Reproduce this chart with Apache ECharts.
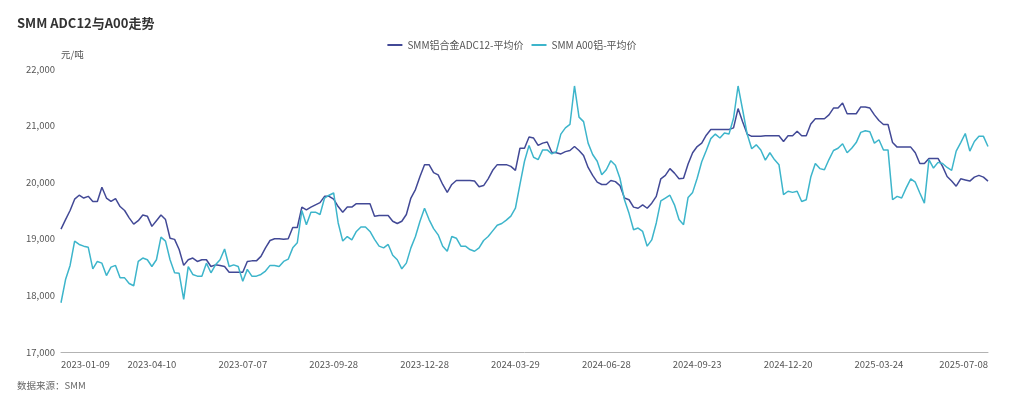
<!DOCTYPE html>
<html>
<head>
<meta charset="utf-8">
<title>SMM ADC12与A00走势</title>
<script src="https://cdn.jsdelivr.net/npm/echarts@6/dist/echarts.min.js"></script>
<style>
  html, body { margin: 0; padding: 0; background: #fff; }
  #chart { width: 1024px; height: 399px; }
</style>
</head>
<body>
<div id="chart"></div>
<script>
// x 轴标签日期：前 10 个每 20 个点一个，最后一个为末日
var tickDates = ['2023-01-09', '2023-04-10', '2023-07-07', '2023-09-28', '2023-12-28',
  '2024-03-29', '2024-06-28', '2024-09-23', '2024-12-20', '2025-03-24', '2025-07-08'];

// SMM铝合金ADC12-平均价（元/吨），约每 3 个交易日一个点
var adc12 = [
  19170, 19340, 19500, 19700, 19770, 19720, 19750, 19660, 19660, 19910, 19720, 19660, 19710, 19570, 19500, 19370, 19260, 19320, 19420, 19400,
  19220, 19320, 19420, 19340, 19010, 18990, 18810, 18530, 18630, 18660, 18600, 18630, 18630, 18510, 18540, 18530, 18510, 18410, 18410, 18410,
  18410, 18600, 18610, 18610, 18690, 18840, 18970, 19000, 19000, 18990, 19000, 19200, 19200, 19560, 19510, 19560, 19600, 19640, 19750, 19750,
  19700, 19570, 19470, 19560, 19560, 19620, 19620, 19620, 19620, 19400, 19410, 19410, 19410, 19310, 19270, 19310, 19430, 19720, 19870, 20100,
  20310, 20310, 20170, 20130, 19960, 19820, 19960, 20030, 20030, 20030, 20030, 20020, 19920, 19940, 20060, 20210, 20310, 20310, 20310, 20280,
  20210, 20600, 20600, 20800, 20780, 20650, 20690, 20710, 20530, 20520, 20500, 20540, 20560, 20630, 20560, 20470, 20260, 20120, 20000, 19960,
  19960, 20030, 20010, 19940, 19720, 19690, 19560, 19540, 19600, 19540, 19630, 19750, 20060, 20120, 20240, 20160, 20060, 20070, 20320, 20520,
  20630, 20690, 20830, 20930, 20930, 20930, 20930, 20930, 20960, 21300, 21070, 20850, 20810, 20810, 20810, 20820, 20820, 20820, 20820, 20720,
  20820, 20820, 20900, 20820, 20820, 21030, 21120, 21120, 21120, 21190, 21310, 21310, 21400, 21210, 21210, 21210, 21330, 21330, 21310, 21190,
  21090, 21020, 21020, 20700, 20620, 20620, 20620, 20620, 20520, 20330, 20330, 20420, 20420, 20420, 20280, 20100, 20020, 19930, 20060, 20040,
  20020, 20090, 20120, 20090, 20020
];

// SMM A00铝-平均价（元/吨）
var a00 = [
  17870, 18280, 18530, 18960, 18900, 18870, 18850, 18470, 18600, 18570, 18350, 18500, 18530, 18310, 18310, 18210, 18170, 18600, 18660, 18630,
  18510, 18630, 19030, 18960, 18630, 18400, 18390, 17930, 18510, 18370, 18340, 18340, 18570, 18400, 18540, 18630, 18820, 18510, 18540, 18510,
  18250, 18460, 18340, 18340, 18370, 18430, 18530, 18530, 18510, 18600, 18640, 18840, 18930, 19500, 19250, 19470, 19470, 19430, 19720, 19770,
  19810, 19280, 18960, 19040, 18980, 19130, 19210, 19210, 19130, 18990, 18870, 18840, 18900, 18710, 18630, 18470, 18570, 18840, 19040, 19310,
  19540, 19340, 19180, 19070, 18870, 18780, 19040, 19010, 18870, 18870, 18810, 18780, 18840, 18970, 19040, 19140, 19240, 19270, 19330, 19400,
  19540, 19960, 20370, 20650, 20440, 20400, 20570, 20570, 20500, 20540, 20850, 20960, 21020, 21700, 21150, 21070, 20690, 20490, 20370, 20130,
  20220, 20380, 20300, 20070, 19690, 19450, 19160, 19190, 19130, 18870, 18980, 19280, 19670, 19720, 19770, 19600, 19340, 19250, 19730, 19820,
  20070, 20360, 20560, 20770, 20850, 20780, 20870, 20850, 21130, 21700, 21280, 20850, 20590, 20660, 20570, 20390, 20520, 20400, 20310, 19780,
  19840, 19820, 19840, 19660, 19690, 20090, 20330, 20240, 20220, 20400, 20560, 20600, 20680, 20520, 20600, 20700, 20880, 20910, 20890, 20690,
  20750, 20570, 20570, 19690, 19750, 19720, 19900, 20060, 20000, 19810, 19630, 20400, 20250, 20350, 20330, 20260, 20210, 20550, 20700, 20860,
  20550, 20720, 20810, 20810, 20630
];

var seriesNames = ['SMM铝合金ADC12-平均价', 'SMM A00铝-平均价'];
var colors = ['#424996', '#3db5cb'];

// 类目日期：标签日期之间按日历天数铺开（仅用于提示）
function buildDates() {
  var out = [];
  var day = function (s) { return Date.parse(s + 'T00:00:00Z') / 864e5; };
  var fmt = function (d) { return new Date(d * 864e5).toISOString().slice(0, 10); };
  for (var i = 0; i < tickDates.length - 1; i++) {
    var a = day(tickDates[i]), b = day(tickDates[i + 1]);
    var n = i < tickDates.length - 2 ? 20 : adc12.length - 1 - 20 * (tickDates.length - 2);
    for (var j = 0; j < n; j++) out.push(fmt(a + Math.round(j * (b - a) / n)));
  }
  out.push(tickDates[tickDates.length - 1]);
  return out;
}
var dates = buildDates();

var chart = echarts.init(document.getElementById('chart'));
var option = {
  color: colors,
  textStyle: { fontFamily: '"Noto Sans CJK SC", "Noto Sans", sans-serif' },
  title: [{
    text: 'SMM ADC12与A00走势',
    left: 12,
    top: 12,
    textStyle: { fontSize: 13, fontWeight: 'bold', color: '#333' }
  }, {
    text: '数据来源：SMM',
    left: 12,
    top: 376,
    textStyle: { fontSize: 9.5, fontWeight: 'normal', color: '#666' }
  }],
  legend: {
    top: 35,
    left: 'center',
    icon: 'rect',
    itemWidth: 15,
    itemHeight: 2,
    itemGap: 8,
    textStyle: { fontSize: 10, color: '#555' },
    data: seriesNames
  },
  grid: { left: 61, right: 36, top: 69, bottom: 47 },
  xAxis: {
    type: 'category',
    boundaryGap: false,
    data: dates,
    axisLine: { lineStyle: { color: '#b3b3b3' } },
    axisTick: { show: false },
    axisLabel: {
      color: '#555',
      fontSize: 9.5,
      margin: 8,
      alignMinLabel: 'left',
      alignMaxLabel: 'right',
      interval: function (index) {
        return (index % 20 === 0 && index <= 180) || index === dates.length - 1;
      }
    }
  },
  yAxis: {
    type: 'value',
    name: '元/吨',
    min: 17000,
    max: 22000,
    interval: 1000,
    nameGap: 10,
    nameTextStyle: { color: '#555', fontSize: 9.5, align: 'left' },
    axisLine: { show: false },
    axisTick: { show: false },
    splitLine: { show: false },
    axisLabel: {
      color: '#555',
      fontSize: 9.5,
      margin: 6,
      formatter: function (v) { return v.toLocaleString('en-US'); }
    }
  },
  series: [{
    name: seriesNames[0],
    type: 'line',
    symbol: 'none',
    lineStyle: { width: 1.5 },
    data: adc12
  }, {
    name: seriesNames[1],
    type: 'line',
    symbol: 'none',
    lineStyle: { width: 1.5 },
    data: a00
  }]
};
chart.setOption(option);
</script>
</body>
</html>
